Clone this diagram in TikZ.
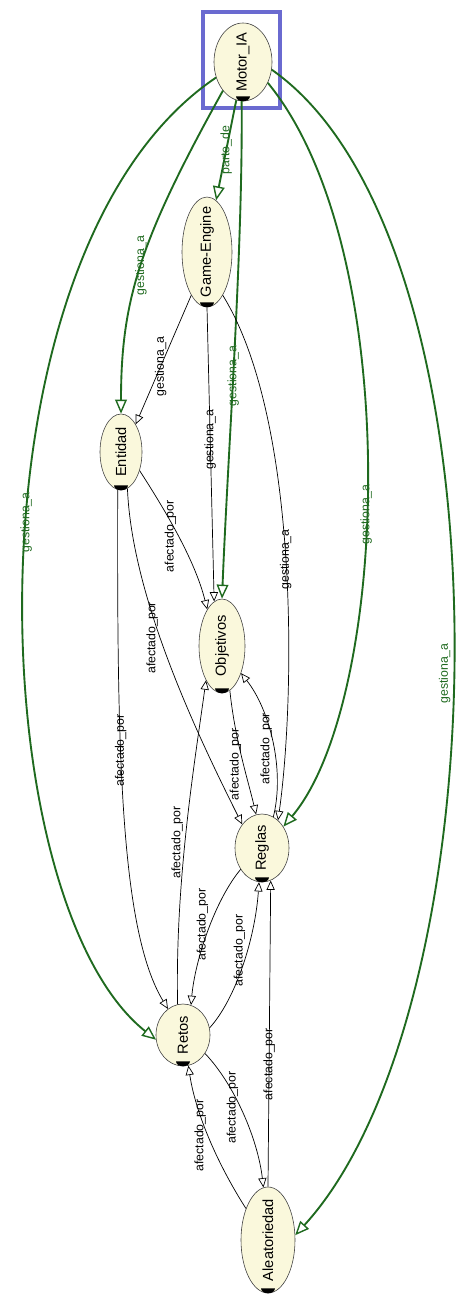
\documentclass[tikz,border=0pt]{standalone}
\usepackage{fontspec}
\setmainfont{Liberation Sans}
\usetikzlibrary{shapes.geometric,arrows.meta}
\definecolor{crema}{HTML}{FAF8DC}
\definecolor{verde}{HTML}{1F6A1F}
\definecolor{marco}{HTML}{6A6AD0}
\begin{document}
\begin{tikzpicture}[x=0.03cm,y=-0.03cm,
	clase/.style 2 args={ellipse,draw=black!75,line width=.5pt,fill=crema,inner sep=0pt,
		minimum width=#1*0.03cm,minimum height=#2*0.03cm},
	nombre/.style={rotate=90,inner sep=0pt,font=\fontsize{12.5}{14}\selectfont},
	etq/.style={rotate=90,inner sep=1.5pt,font=\fontsize{10.5}{12}\selectfont},
	rel/.style={black,line width=.6pt,-{Triangle[fill=white,length=8pt,width=7pt]}},
	gest/.style={color=verde,line width=1.6pt,-{Triangle[fill=white,length=12pt,width=10pt,line width=1.2pt]}},
	sel/.style={draw=marco,line width=3.2pt}]
	\path[fill=white,use as bounding box] (0,0) rectangle (460,1295);
	\node[clase={58}{78},label={[nombre]center:Motor\_IA}] (motor) at (243,62) {};
	\node[clase={50}{110},label={[nombre]center:Game-Engine}] (engine) at (207,252) {};
	\node[clase={42}{76},label={[nombre]center:Entidad}] (entidad) at (121,452) {};
	\node[clase={46}{94},label={[nombre]center:Objetivos}] (objetivos) at (222,646) {};
	\node[clase={54}{68},label={[nombre]center:Reglas}] (reglas) at (262,848) {};
	\node[clase={54}{62},label={[nombre]center:Retos}] (retos) at (183,1035) {};
	\node[clase={54}{106},label={[nombre]center:Aleatoriedad}] (aleat) at (268,1240) {};
	\foreach \n in {motor,engine,entidad,objetivos,reglas,retos,aleat}
		\fill (\n.south) ++(7,-5) arc[start angle=0,end angle=180,x radius=7,y radius=5] -- cycle;
	\draw[sel] ([shift={(-40,-50)}]motor.center) rectangle ([shift={(37,46)}]motor.center);
	\draw[gest] (motor.260) -- node[etq,pos=.5]{parte\_de} (engine.80);
	\draw[gest] (motor.235) .. controls (140,240) and (121,300) .. node[etq,pos=.5]{gestiona\_a} (entidad.north);
	\draw[gest] (motor.268) .. controls (243,250) and (228,450) .. node[etq,pos=.55]{gestiona\_a} (objetivos.north);
	\draw[gest] (motor.210) .. controls (-40,250) and (-20,900) .. node[etq,pos=.46]{gestiona\_a} (retos.190);
	\draw[gest] (motor.320) .. controls (405,250) and (390,700) .. node[etq,pos=.55]{gestiona\_a} (reglas.45);
	\draw[gest] (motor.345) .. controls (515,240) and (505,1005) .. node[etq,pos=.53,above]{gestiona\_a} (aleat.10);
	\draw[rel] (engine.250) -- node[etq,pos=.55]{gestiona\_a} (entidad.62);
	\draw[rel] (engine.south) -- node[etq,pos=.45]{gestiona\_a} (objetivos.100);
	\draw[rel] (engine.290) .. controls (300,420) and (295,700) .. node[etq,pos=.5]{gestiona\_a} (reglas.60);
	\draw[rel] (entidad.315) .. controls (165,510) and (195,560) .. node[etq,pos=.5,above]{afectado\_por} (objetivos.112);
	\draw[rel] (entidad.280) .. controls (132,600) and (200,740) .. node[etq,pos=.42,above]{afectado\_por} (reglas.130);
	\draw[rel] (entidad.265) .. controls (117,750) and (120,930) .. node[etq,pos=.38]{afectado\_por} (retos.120);
	\draw[rel] (objetivos.280) .. controls (235,740) and (248,780) .. node[etq,pos=.55,above]{afectado\_por} (reglas.100);
	\draw[rel] (reglas.70) .. controls (285,770) and (270,710) .. node[etq,pos=.45,above]{afectado\_por} (objetivos.305);
	\draw[rel] (retos.100) .. controls (175,880) and (195,760) .. node[etq,pos=.45,above]{afectado\_por} (objetivos.245);
	\draw[rel] (reglas.225) .. controls (215,900) and (195,960) .. node[etq,pos=.45,above]{afectado\_por} (retos.75);
	\draw[rel] (retos.15) .. controls (235,1000) and (255,940) .. node[etq,pos=.6,above]{afectado\_por} (reglas.265);
	\draw[rel] (aleat.north) -- node[etq,pos=.4]{afectado\_por} (reglas.285);
	\draw[rel] (aleat.125) .. controls (215,1160) and (195,1110) .. node[etq,pos=.5,above]{afectado\_por} (retos.280);
	\draw[rel] (retos.320) .. controls (235,1085) and (258,1140) .. node[etq,pos=.45,above]{afectado\_por} (aleat.95);
\end{tikzpicture}
\end{document}
